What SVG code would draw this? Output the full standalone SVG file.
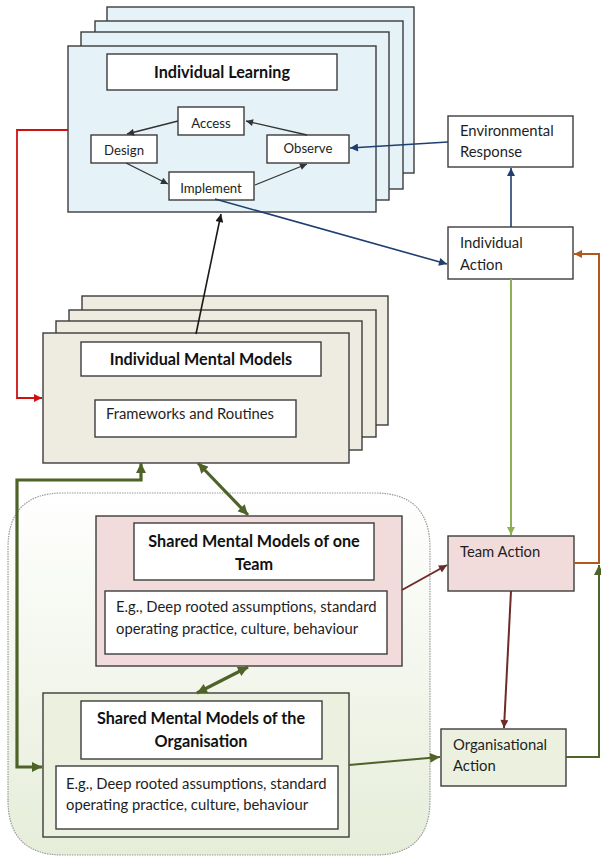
<svg xmlns="http://www.w3.org/2000/svg" width="601" height="856" viewBox="0 0 601 856">
<defs>
<style>
.bx{stroke:#3c3c3c;stroke-width:1.4}
.il{fill:#E5F2F7}
.imm{fill:#EEECE1}
.tm{fill:#F2DCDB}
.org{fill:#EBF1DE}
.wh{fill:#fff}
text{font-family:Lato,"Open Sans","Liberation Sans",sans-serif;fill:#1e1e1e}
.t{font-weight:bold;font-size:16.2px;text-anchor:middle;fill:#111}
.s{font-size:13.2px;text-anchor:middle}
.r{font-size:14.8px}
.c{fill:none}
</style>
<linearGradient id="g" x1="0" y1="0" x2="0" y2="1">
<stop offset="0" stop-color="#ffffff"/>
<stop offset="1" stop-color="#E6EDD9"/>
</linearGradient>
<marker id="aK" viewBox="0 0 10 10" refX="10" refY="5" markerUnits="userSpaceOnUse" markerWidth="10" markerHeight="8" orient="auto"><path d="M0,0L10,5L0,10z" fill="#1a1a1a"/></marker>
<marker id="aG" viewBox="0 0 10 10" refX="10" refY="5" markerUnits="userSpaceOnUse" markerWidth="9" markerHeight="7" orient="auto"><path d="M0,0L10,5L0,10z" fill="#333"/></marker>
<marker id="aB" viewBox="0 0 10 10" refX="10" refY="5" markerUnits="userSpaceOnUse" markerWidth="10" markerHeight="8" orient="auto"><path d="M0,0L10,5L0,10z" fill="#1F3F6F"/></marker>
<marker id="aR" viewBox="0 0 10 10" refX="10" refY="5" markerUnits="userSpaceOnUse" markerWidth="10" markerHeight="8" orient="auto"><path d="M0,0L10,5L0,10z" fill="#D01010"/></marker>
<marker id="aO" viewBox="0 0 10 10" refX="10" refY="5" markerUnits="userSpaceOnUse" markerWidth="11" markerHeight="10" orient="auto-start-reverse"><path d="M0,0L10,5L0,10z" fill="#4F6228"/></marker>
<marker id="aL" viewBox="0 0 10 10" refX="10" refY="5" markerUnits="userSpaceOnUse" markerWidth="10" markerHeight="8" orient="auto"><path d="M0,0L10,5L0,10z" fill="#8FAE55"/></marker>
<marker id="aN" viewBox="0 0 10 10" refX="10" refY="5" markerUnits="userSpaceOnUse" markerWidth="10" markerHeight="8" orient="auto"><path d="M0,0L10,5L0,10z" fill="#B3581C"/></marker>
<marker id="aM" viewBox="0 0 10 10" refX="10" refY="5" markerUnits="userSpaceOnUse" markerWidth="10" markerHeight="8" orient="auto"><path d="M0,0L10,5L0,10z" fill="#6E2A28"/></marker>
</defs>
<rect width="601" height="856" fill="#fff"/>

<g id="region">
<path d="M8,800 V548 Q8,493 63,493 H375 Q430,493 430,548 V800 Q430,855 375,855 H63 Q8,855 8,800 Z" fill="url(#g)" stroke="#9a9a9a" stroke-width="1.2" stroke-dasharray="1.5,1"/>
</g>

<g id="individual-learning">
<rect class="bx il" x="107" y="7" width="307" height="166"/>
<rect class="bx il" x="95" y="21" width="308" height="168"/>
<rect class="bx il" x="81" y="32" width="308" height="168"/>
<rect class="bx il" x="68" y="46" width="308" height="166"/>
<rect class="bx wh" x="107" y="54" width="230" height="36"/>
<text class="t" x="222" y="77.5">Individual Learning</text>
</g>
<g id="access"><rect class="bx wh" x="178" y="107" width="66" height="28"/><text class="s" x="211" y="128">Access</text></g>
<g id="design"><rect class="bx wh" x="91" y="135" width="66" height="28"/><text class="s" x="124" y="155">Design</text></g>
<g id="observe"><rect class="bx wh" x="267" y="135" width="82" height="28"/><text class="s" x="308" y="153">Observe</text></g>
<g id="implement"><rect class="bx wh" x="169" y="172" width="85" height="28"/><text class="s" x="211" y="193">Implement</text></g>

<g id="individual-mental-models">
<rect class="bx imm" x="82" y="296" width="306" height="129"/>
<rect class="bx imm" x="69" y="310" width="307" height="127"/>
<rect class="bx imm" x="56" y="321" width="306" height="129"/>
<rect class="bx imm" x="43" y="333" width="306" height="130"/>
<rect class="bx wh" x="81" y="342" width="240" height="34"/>
<text class="t" x="201" y="364.5">Individual Mental Models</text>
<rect class="bx wh" x="95" y="400" width="201" height="37"/>
<text class="r" x="106" y="419">Frameworks and Routines</text>
</g>

<g id="shared-team">
<rect class="bx tm" x="96" y="516" width="306" height="150"/>
<rect class="bx wh" x="134" y="523" width="240" height="57"/>
<text class="t" x="254" y="546.5">Shared Mental Models of one</text>
<text class="t" x="254" y="569.5">Team</text>
<rect class="bx wh" x="105" y="591" width="282" height="63"/>
<text class="r" x="116" y="612">E.g., Deep rooted assumptions, standard</text>
<text class="r" x="116" y="634">operating practice, culture, behaviour</text>
</g>

<g id="shared-org">
<rect class="bx org" x="43" y="693" width="306" height="144"/>
<rect class="bx wh" x="81" y="701" width="241" height="58"/>
<text class="t" x="201" y="723.5">Shared Mental Models of the</text>
<text class="t" x="201" y="746.5">Organisation</text>
<rect class="bx wh" x="56" y="766" width="282" height="63"/>
<text class="r" x="66" y="789">E.g., Deep rooted assumptions, standard</text>
<text class="r" x="66" y="810">operating practice, culture, behaviour</text>
</g>

<g id="environmental-response">
<rect class="bx wh" x="448" y="116" width="125" height="51"/>
<text class="r" x="460" y="136">Environmental</text>
<text class="r" x="460" y="157">Response</text>
</g>
<g id="individual-action">
<rect class="bx wh" x="448" y="227" width="125" height="52"/>
<text class="r" x="460" y="248">Individual</text>
<text class="r" x="460" y="270">Action</text>
</g>
<g id="team-action">
<rect class="bx tm" x="448" y="536" width="126" height="55"/>
<text class="r" x="460" y="557">Team Action</text>
</g>
<g id="organisational-action">
<rect class="bx org" x="441" y="729" width="125" height="57"/>
<text class="r" x="453" y="750">Organisational</text>
<text class="r" x="453" y="771">Action</text>
</g>

<g id="connectors" class="c">
<path d="M178,121 L127,134" stroke="#333" stroke-width="1.3" marker-end="url(#aG)"/>
<path d="M307,135 L246,121" stroke="#333" stroke-width="1.3" marker-end="url(#aG)"/>
<path d="M126,163 L168,184" stroke="#333" stroke-width="1.3" marker-end="url(#aG)"/>
<path d="M255,185 L307,164" stroke="#333" stroke-width="1.3" marker-end="url(#aG)"/>
<path d="M448,142 L350,148" stroke="#1F3F6F" stroke-width="1.6" marker-end="url(#aB)"/>
<path d="M215,199 L447,264" stroke="#1F3F6F" stroke-width="1.6" marker-end="url(#aB)"/>
<path d="M511,227 V168" stroke="#1F3F6F" stroke-width="1.6" marker-end="url(#aB)"/>
<path d="M68,130 H17 V398 H42" stroke="#D01010" stroke-width="1.8" marker-end="url(#aR)"/>
<path d="M196,334 L221,214" stroke="#1a1a1a" stroke-width="1.6" marker-end="url(#aK)"/>
<path d="M141,463 V480 H17 V767 H42" stroke="#4F6228" stroke-width="3.2" marker-start="url(#aO)" marker-end="url(#aO)"/>
<path d="M198,463 L248,515" stroke="#4F6228" stroke-width="3.2" marker-start="url(#aO)" marker-end="url(#aO)"/>
<path d="M248,667 L197,693" stroke="#4F6228" stroke-width="3.2" marker-start="url(#aO)" marker-end="url(#aO)"/>
<path d="M349,765 L440,757" stroke="#4F6228" stroke-width="2" marker-end="url(#aO)"/>
<path d="M566,757 H599 V565" stroke="#4F6228" stroke-width="2" marker-end="url(#aO)"/>
<path d="M511,279 V535" stroke="#8FAE55" stroke-width="2" marker-end="url(#aL)"/>
<path d="M574,563 H599 V254 H574" stroke="#B3581C" stroke-width="2" marker-end="url(#aN)"/>
<path d="M402,590 L447,565" stroke="#6E2A28" stroke-width="2" marker-end="url(#aM)"/>
<path d="M511,591 L504,728" stroke="#6E2A28" stroke-width="2" marker-end="url(#aM)"/>
</g>
</svg>
